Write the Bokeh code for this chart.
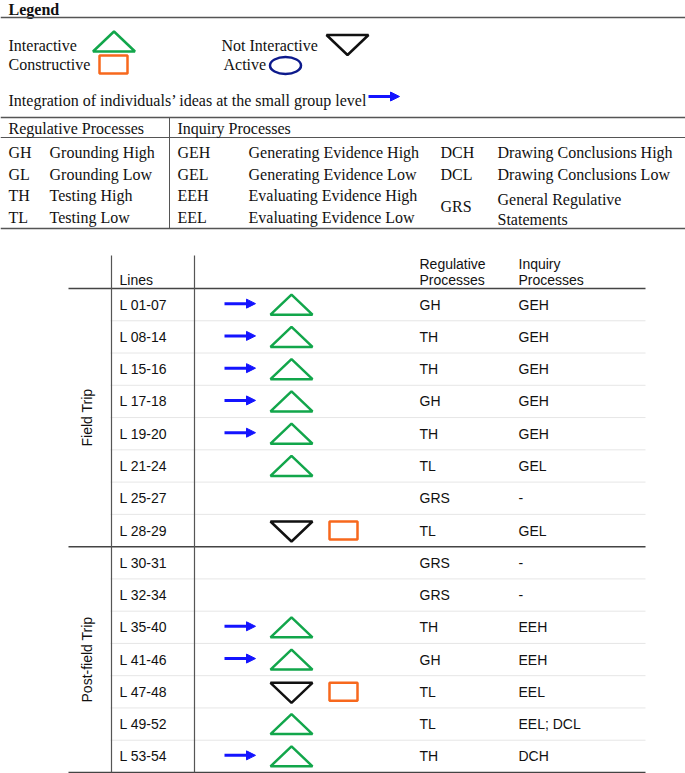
import numpy as np
from bokeh.plotting import figure
from bokeh.models import Range1d, ColumnDataSource, Arrow, NormalHead
from bokeh.core.properties import value
from bokeh.embed import file_html
from bokeh.resources import INLINE

# ---------------- data ----------------
legend_items = ["Interactive", "Constructive", "Not Interactive", "Active"]
integration_label = "Integration of individuals\u2019 ideas at the small group level"

reg_abbr = ["GH", "GL", "TH", "TL"]
reg_desc = ["Grounding High", "Grounding Low", "Testing High", "Testing Low"]
inq_abbr1 = ["GEH", "GEL", "EEH", "EEL"]
inq_desc1 = ["Generating Evidence High", "Generating Evidence Low",
             "Evaluating Evidence High", "Evaluating Evidence Low"]
inq_abbr2 = ["DCH", "DCL"]
inq_desc2 = ["Drawing Conclusions High", "Drawing Conclusions Low"]
grs_abbr = "GRS"
grs_desc = ["General Regulative", "Statements"]

lines = ["L 01-07", "L 08-14", "L 15-16", "L 17-18", "L 19-20", "L 21-24", "L 25-27", "L 28-29",
         "L 30-31", "L 32-34", "L 35-40", "L 41-46", "L 47-48", "L 49-52", "L 53-54"]
phases = ["Field Trip", "Post-field Trip"]
phase_rows = [8, 7]
integration = [1, 1, 1, 1, 1, 0, 0, 0, 0, 0, 1, 1, 0, 0, 1]
interaction = ["up", "up", "up", "up", "up", "up", "", "down",
               "", "", "up", "up", "down", "up", "up"]
constructive = [0, 0, 0, 0, 0, 0, 0, 1, 0, 0, 0, 0, 1, 0, 0]
regulative = ["GH", "TH", "TH", "GH", "TH", "TL", "GRS", "TL",
              "GRS", "GRS", "TH", "GH", "TL", "TL", "TH"]
inquiry = ["GEH", "GEH", "GEH", "GEH", "GEH", "GEL", "-", "GEL",
           "-", "-", "EEH", "EEH", "EEL", "EEL; DCL", "DCH"]

# ---------------- styles ----------------
GREEN = "#12a64b"
ORANGE = "#f7681d"
BLACK = "#111111"
NAVY = "#0d1a8c"
BLUE = "#1414ff"
SERIF = value("Liberation Serif")
SANS = value("Liberation Sans")
SERIF_SIZE = "16px"
SANS_SIZE = "14px"

p = figure(width=685, height=773, x_range=Range1d(0, 685), y_range=Range1d(773, 0),
           output_backend="svg", toolbar_location=None, min_border=0,
           outline_line_color=None)
p.axis.visible = False
p.grid.visible = False
p.background_fill_color = "white"


def tri_up(cx, cy, w=42, h=20):
    return [cx - w / 2, cx, cx + w / 2], [cy + h / 2, cy - h / 2, cy + h / 2]


def tri_down(cx, cy, w=42, h=20):
    return [cx - w / 2, cx, cx + w / 2], [cy - h / 2, cy + h / 2, cy - h / 2]


def txt(x, y, t, font=SERIF, size=SERIF_SIZE, color="#111111", style="normal", align="left", angle=0):
    p.text(x=x, y=y, text=t, text_font=font, text_font_size=size, text_color=color,
           text_font_style=style, text_align=align, text_baseline="middle", angle=angle)


# ---------------- legend section ----------------
txt([8], [9], ["Legend"], style="bold")
p.segment(x0=[0, 0, 0, 0], y0=[17, 117, 137, 228], x1=[685, 685, 685, 685], y1=[17, 117, 137, 228],
          line_color="#555555", line_width=[1.5, 1.5, 1, 1.5])
p.segment(x0=[169], y0=[117], x1=[169], y1=[228], line_color="#555555", line_width=1)

txt([8, 8, 221, 223], [45, 64, 45, 64], legend_items)
xs, ys = tri_up(113.5, 41)
p.patch(xs, ys, fill_color=None, line_color=GREEN, line_width=2.5)
p.quad(left=[99], right=[127], top=[55], bottom=[73], fill_color=None, line_color=ORANGE, line_width=2.5)
xs, ys = tri_down(347, 44.5)
p.patch(xs, ys, fill_color=None, line_color=BLACK, line_width=2.5)
p.ellipse(x=[285], y=[65], width=31, height=17, fill_color=None, line_color=NAVY, line_width=2.5)

txt([8], [100], [integration_label])
p.add_layout(Arrow(x_start=368, y_start=96, x_end=399, y_end=96, line_color=BLUE, line_width=3,
                   end=NormalHead(size=9, fill_color=BLUE, line_color=BLUE)))

txt([8, 177], [128, 128], ["Regulative Processes", "Inquiry Processes"])
ry = [152, 173.5, 195, 216.5]
txt([8] * 4, ry, reg_abbr)
txt([49] * 4, ry, reg_desc)
txt([177] * 4, ry, inq_abbr1)
txt([248] * 4, ry, inq_desc1)
txt([440] * 2, ry[:2], inq_abbr2)
txt([497] * 2, ry[:2], inq_desc2)
txt([440], [(ry[2] + ry[3]) / 2], [grs_abbr])
txt([497, 497], [ry[2] + 4, ry[3] + 2], grs_desc)

# ---------------- coded lines table ----------------
top, head, bottom = 255, 288, 772
n = len(lines)
rh = (bottom - head) / n
cy = np.array([head + (i + 0.5) * rh for i in range(n)])

# row separators
sep_y = [head + i * rh for i in range(1, n)]
p.segment(x0=[110] * len(sep_y), y0=sep_y, x1=[645] * len(sep_y), y1=sep_y,
          line_color="#e6e6e6", line_width=1)
# phase separators
bounds = np.cumsum(phase_rows)
p.segment(x0=[68, 68, 68], y0=[head, head + bounds[0] * rh, bottom],
          x1=[645, 645, 645], y1=[head, head + bounds[0] * rh, bottom],
          line_color="#444444", line_width=1.5)
p.segment(x0=[111, 194], y0=[top, top], x1=[111, 194], y1=[bottom, bottom],
          line_color="#555555", line_width=1.2)

txt([119], [279], ["Lines"], font=SANS, size=SANS_SIZE)
txt([419, 419], [263, 279], ["Regulative", "Processes"], font=SANS, size=SANS_SIZE)
txt([518, 518], [263, 279], ["Inquiry", "Processes"], font=SANS, size=SANS_SIZE)

start = 0
for ph, k in zip(phases, phase_rows):
    mid = head + (start + k / 2) * rh
    txt([86], [mid], [ph], font=SANS, size=SANS_SIZE, align="center", angle=np.pi / 2)
    start += k

txt([119] * n, list(cy), lines, font=SANS, size=SANS_SIZE)
txt([419] * n, list(cy), regulative, font=SANS, size=SANS_SIZE)
txt([518] * n, list(cy), inquiry, font=SANS, size=SANS_SIZE)

# arrows
ai = [i for i in range(n) if integration[i]]
asrc = ColumnDataSource(dict(x0=[224] * len(ai), x1=[255] * len(ai), y=list(cy[ai] - 1)))
p.add_layout(Arrow(source=asrc, x_start="x0", y_start="y", x_end="x1", y_end="y",
                   line_color=BLUE, line_width=3,
                   end=NormalHead(size=9, fill_color=BLUE, line_color=BLUE)))

# triangles
ux, uy, dx, dy = [], [], [], []
for i in range(n):
    if interaction[i] == "up":
        a, b = tri_up(291, cy[i])
        ux.append(a); uy.append(b)
    elif interaction[i] == "down":
        a, b = tri_down(291, cy[i] + 1)
        dx.append(a); dy.append(b)
p.patches(ux, uy, fill_color=None, line_color=GREEN, line_width=2.5)
p.patches(dx, dy, fill_color=None, line_color=BLACK, line_width=2.5)

ci = [i for i in range(n) if constructive[i]]
p.quad(left=[329] * len(ci), right=[357] * len(ci), top=list(cy[ci] - 9), bottom=list(cy[ci] + 9),
       fill_color=None, line_color=ORANGE, line_width=2.5)

open("out.html", "w").write(file_html(p, INLINE))
